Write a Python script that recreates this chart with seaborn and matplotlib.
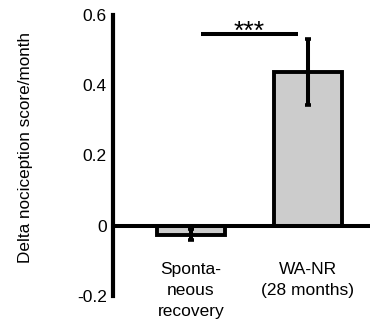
import matplotlib
matplotlib.use("Agg")
import matplotlib.pyplot as plt
import seaborn as sns
import numpy as np
import pandas as pd

categories = ["Sponta-\nneous\nrecovery", "WA-NR\n(28 months)"]
values = [-0.026, 0.437]
errors = [0.015, 0.094]
yticks = [-0.2, 0, 0.2, 0.4, 0.6]
ytick_labels = ["-0.2", "0", "0.2", "0.4", "0.6"]
ylabel = "Delta nociception score/month"
sig_text = "***"
sig_span = [0.083, 0.916]
sig_level = 0.547

sns.set_style("white")
plt.rcParams['font.family'] = ['Liberation Sans', 'DejaVu Sans']

df = pd.DataFrame({"group": categories, "value": values})

fig = plt.figure(figsize=(3.7, 3.2), dpi=100)
ax = fig.add_axes([0.3054, 0.0759, 0.6946, 0.8772])

sns.barplot(data=df, x="group", y="value", ax=ax, width=0.58,
            color="#cccccc", edgecolor="black", linewidth=2.8,
            errorbar=None, saturation=1)

xpos = np.arange(len(categories))
ax.errorbar(xpos, values, yerr=errors, fmt="none", ecolor="black",
            elinewidth=2.9, capsize=2, capthick=2.6, zorder=5)

ax.plot(sig_span, [sig_level, sig_level], color="black", lw=2.9, solid_capstyle="butt")
ax.text(np.mean(sig_span), sig_level - 0.03, sig_text, ha="center", va="bottom",
        fontsize=19, color="black")

ax.set_xlim(-0.668, 1.533)
ax.set_ylim(-0.2, 0.6)
ax.set_yticks(yticks)
ax.set_yticklabels(ytick_labels, fontsize=12.5)
ax.tick_params(axis="y", direction="in", length=5, width=2.2, pad=4.5, colors="black")
ax.tick_params(axis="x", length=0, labelbottom=False)
for x, lab in zip(xpos, categories):
    ax.text(x, -0.104, lab, ha="center", va="top", fontsize=12.5,
            linespacing=1.48, color="black")

ax.set_xlabel("")
ax.set_ylabel(ylabel, fontsize=12.3, color="black")
ax.yaxis.set_label_coords(-0.311, 0.528)

for s in ["top", "right"]:
    ax.spines[s].set_visible(False)
ax.spines["left"].set_linewidth(3)
ax.spines["left"].set_color("black")
ax.spines["bottom"].set_position(("data", 0))
ax.spines["bottom"].set_linewidth(2.9)
ax.spines["bottom"].set_color("black")
ax.spines["bottom"].set_zorder(6)

fig.savefig("out.png", dpi=100)
